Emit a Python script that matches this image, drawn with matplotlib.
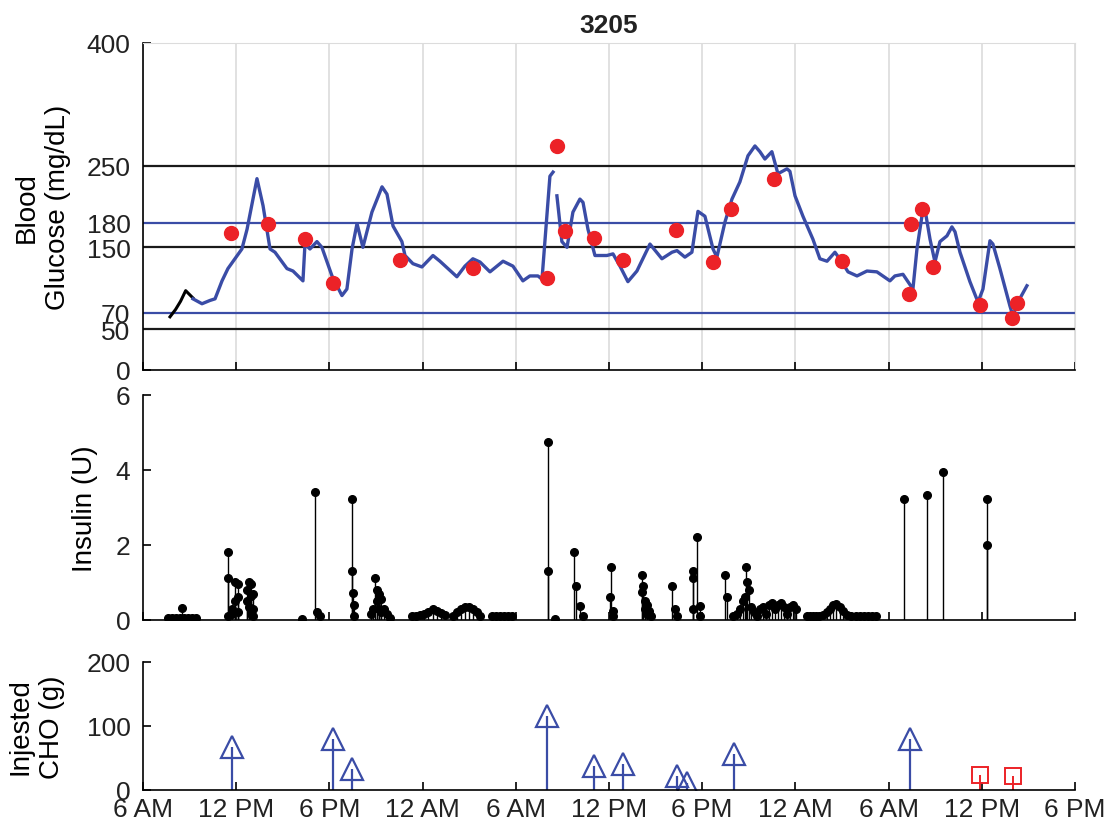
#%% Setup

import numpy as np
import matplotlib
matplotlib.use('Agg')
import matplotlib.pyplot as plt

plt.rcParams['font.family'] = ['Liberation Sans', 'DejaVu Sans']
plt.rcParams['text.color'] = '#222222'

# hours since 6 AM on day 1
tick_hours = [0, 6, 12, 18, 24, 30, 36, 42, 48, 54, 60]
tick_labels = ['6 AM', '12 PM', '6 PM', '12 AM', '6 AM', '12 PM', '6 PM',
               '12 AM', '6 AM', '12 PM', '6 PM']

# CGM trace, start of record (black) and the rest (blue, nan = gap)
cgm_start_h = [1.74, 2.10, 2.42, 2.75, 3.22]
cgm_start = [65, 74, 84, 97, 88]

cgm_h = [3.22, 3.80, 4.31, 4.64, 5.09, 5.47, 6.37, 6.70, 7.34, 7.73, 8.18, 8.50,
         9.27, 9.66, 10.30, 10.43, 10.75, 11.20, 11.52, 12.17, 12.81, 13.13,
         13.46, 13.78, 14.16, 14.74, 15.39, 15.71, 16.10, 16.67, 16.87, 17.38,
         17.96, 18.67, 19.12, 20.21, 20.73, 21.24, 21.70, 22.34, 23.18, 23.82,
         24.46, 24.91, 25.43, 25.69, 26.20, 26.40, 26.52,
         26.65, 26.97, 27.30, 27.68, 28.13, 28.33, 28.65, 29.10, 29.87, 30.26,
         30.71, 31.22, 31.80, 32.64, 33.41, 34.06, 34.38, 34.89, 35.34, 35.73,
         36.18, 36.70, 36.95, 37.47, 37.92, 38.43, 38.95, 39.40, 39.72, 40.04,
         40.49, 40.88, 41.46, 41.65, 41.98, 42.49, 43.13, 43.58, 44.04, 44.55,
         45.00, 45.39, 45.97, 46.61, 47.25, 48.09, 48.41, 48.93, 49.25, 49.57,
         49.83, 50.15, 50.34, 50.67, 50.99, 51.31, 51.76, 52.08, 52.28, 52.60,
         53.24, 53.76, 54.08, 54.53, 54.72, 55.17, 55.82, 56.01, 56.33, 56.91]
cgm = [87, 81, 85, 87, 109, 124, 148, 172, 234, 201, 148, 144,
       124, 121, 109, 154, 148, 157, 150, 115, 91, 99,
       148, 179, 150, 193, 224, 215, 176, 157, 140, 130,
       126, 140, 133, 114, 127, 136, 132, 120, 133, 127,
       109, 115, 115, 111, 237, 242, np.nan,
       213, 157, 150, 193, 209, 205, 172, 140, 140, 142,
       127, 108, 121, 154, 136, 144, 146, 138, 144, 194,
       188, 148, 138, 181, 209, 230, 262, 274, 267, 258,
       267, 240, 246, 243, 213, 188, 160, 136, 133, 144,
       132, 120, 115, 121, 120, 109, 115, 117, 108, 99,
       148, 188, 197, 160, 132, 157, 164, 175, 169, 144,
       108, 83, 99, 158, 154, 124, 78, 66, 83, 103]

# finger stick readings
smbg_h = [5.67, 8.05, 10.43, 12.23, 16.55, 21.24, 26.01, 26.65, 27.17, 29.04,
          30.90, 34.31, 36.70, 37.86, 40.62, 45.00, 49.32, 49.44, 50.15, 50.86,
          53.89, 55.95, 56.27]
smbg = [167, 179, 160, 106, 134, 125, 112, 274, 170, 161,
        135, 171, 132, 197, 233, 133, 93, 178, 197, 126,
        79, 64, 82]

# insulin deliveries (U)
ins_h = [1.61, 1.87, 2.12, 2.38, 2.51, 2.64, 2.90, 3.15, 3.41,
         5.47, 5.47, 5.47, 5.73, 5.73, 5.92, 5.92, 6.12, 6.12, 6.12,
         6.70, 6.70, 6.82, 6.82, 6.95, 6.95, 6.95, 7.08, 7.08, 7.08,
         10.24, 11.07, 11.20, 11.40,
         13.46, 13.46, 13.52, 13.58, 13.58,
         14.68, 14.81, 14.94, 15.06, 15.06, 15.19, 15.19, 15.32, 15.32, 15.52, 15.71, 15.90,
         17.32, 17.58, 17.83, 18.09, 18.35, 18.67, 18.93, 19.19, 19.44,
         19.96, 20.21, 20.47, 20.73, 20.99, 21.24, 21.50, 21.70,
         22.47, 22.73, 22.98, 23.24, 23.50, 23.76,
         26.07, 26.07, 26.52,
         27.75, 27.88, 28.13, 28.33,
         30.13, 30.07, 30.26, 30.26,
         32.13, 32.13, 32.19, 32.32, 32.32, 32.45, 32.45, 32.58, 32.70,
         34.06, 34.25, 34.38,
         35.67, 35.41, 35.41, 35.41, 35.86, 35.86,
         37.47, 37.60,
         38.82, 38.89, 39.01, 37.98, 38.24, 38.43, 38.63, 38.76, 39.14, 39.34, 39.53,
         39.72, 39.92, 40.11, 40.30, 40.49, 40.69, 40.88, 41.07, 41.27, 41.46, 41.65, 41.85, 42.04,
         42.75, 42.94, 43.13, 43.33, 43.52, 43.78, 44.04, 44.23, 44.42, 44.61,
         44.87, 45.06, 45.32, 45.58, 45.90, 46.16, 46.42, 46.67, 46.93, 47.19,
         48.99, 50.47, 51.50, 54.34, 54.34]
ins_u = [0.05, 0.05, 0.05, 0.05, 0.32, 0.05, 0.05, 0.05, 0.05,
         1.81, 1.12, 0.10, 0.30, 0.15, 1.01, 0.50, 0.95, 0.61, 0.20,
         0.80, 0.50, 1.00, 0.35, 0.95, 0.65, 0.15, 0.70, 0.30, 0.10,
         0.03, 3.41, 0.20, 0.10,
         3.23, 1.31, 0.72, 0.40, 0.10,
         0.15, 0.30, 1.12, 0.80, 0.50, 0.70, 0.30, 0.55, 0.20, 0.30, 0.15, 0.05,
         0.10, 0.10, 0.12, 0.15, 0.22, 0.30, 0.25, 0.18, 0.12,
         0.10, 0.20, 0.30, 0.35, 0.35, 0.30, 0.20, 0.10,
         0.10, 0.10, 0.10, 0.10, 0.10, 0.10,
         4.75, 1.31, 0.03,
         1.81, 0.91, 0.37, 0.10,
         1.41, 0.61, 0.24, 0.10,
         1.20, 0.75, 0.91, 0.50, 0.30, 0.40, 0.15, 0.25, 0.10,
         0.91, 0.30, 0.10,
         2.21, 1.31, 1.12, 0.30, 0.37, 0.10,
         1.20, 0.61,
         1.41, 1.01, 0.80, 0.10, 0.15, 0.30, 0.50, 0.60, 0.35, 0.20, 0.10,
         0.30, 0.35, 0.15, 0.40, 0.45, 0.30, 0.40, 0.45, 0.35, 0.15, 0.35, 0.40, 0.30,
         0.10, 0.10, 0.10, 0.10, 0.10, 0.12, 0.20, 0.30, 0.40, 0.42,
         0.35, 0.25, 0.12, 0.10, 0.10, 0.10, 0.10, 0.10, 0.10, 0.10,
         3.23, 3.33, 3.95, 3.23, 2.00]

# meals and hypo treatments (g)
meal_h = [5.71, 12.25, 13.48, 26.03, 29.04, 30.92, 34.36, 35.00, 38.05, 49.38]
meal_g = [67, 80, 32, 116, 38, 41, 22, 11, 56, 80]
treat_h = [53.88, 56.00]
treat_g = [24, 22]

blue = '#3a4ca6'
red = '#ec2227'
fs = 19

#%% Figure

fig = plt.figure(figsize=(11.1, 8.37), dpi=100)
ax1 = fig.add_axes([0.1288, 0.5568, 0.8396, 0.3907])
ax2 = fig.add_axes([0.1288, 0.2581, 0.8396, 0.2688])
ax3 = fig.add_axes([0.1288, 0.0550, 0.8396, 0.1529])

for ax in (ax1, ax2, ax3):
    ax.set_xlim(0, 60)
    ax.set_xticks(tick_hours)
    ax.tick_params(direction='in', length=6, width=1.2, labelsize=fs,
                   color='black', labelcolor='#222222')
    ax.tick_params(axis='y', pad=9)
    ax.tick_params(axis='x', pad=5)
    for s in ('left', 'bottom'):
        ax.spines[s].set_linewidth(1.2)
    ax.spines['top'].set_visible(False)
    ax.spines['right'].set_visible(False)

# glucose
ax1.grid(axis='x', color='#dcdcdc', linewidth=1.2)
ax1.set_axisbelow(True)
ax1.spines['top'].set_visible(True)
ax1.spines['right'].set_visible(True)
ax1.spines['top'].set_color('#dcdcdc')
ax1.spines['right'].set_color('#dcdcdc')
for lvl in (50, 150, 250):
    ax1.axhline(lvl, color='#1a1a1a', linewidth=1.6, zorder=1)
for lvl in (70, 180):
    ax1.axhline(lvl, color=blue, linewidth=1.6, zorder=1)
ax1.plot(cgm_start_h, cgm_start, color='black', linewidth=2.2, zorder=2)
ax1.plot(cgm_h, cgm, color=blue, linewidth=2.4, zorder=2)
ax1.plot(smbg_h, smbg, 'o', color=red, markersize=10, zorder=3)
ax1.set_ylim(0, 400)
ax1.set_yticks([0, 50, 70, 150, 180, 250, 400])
ax1.set_xticklabels([])
ax1.set_ylabel('Blood\nGlucose (mg/dL)', fontsize=20, linespacing=1.25)
ax1.yaxis.set_label_coords(-0.077, 0.5)
ax1.set_title('3205', fontsize=19, fontweight='bold', pad=8)

# insulin
ax2.vlines(ins_h, 0, ins_u, color='black', linewidth=1.0)
ax2.plot(ins_h, ins_u, 'o', color='black', markersize=5.5)
ax2.set_ylim(0, 6)
ax2.set_yticks([0, 2, 4, 6])
ax2.set_xticklabels([])
ax2.set_ylabel('Insulin (U)', fontsize=20)
ax2.yaxis.set_label_coords(-0.048, 0.5)

# carbs
ax3.vlines(meal_h, 0, meal_g, color=blue, linewidth=1.6)
ax3.plot(meal_h, meal_g, '^', markersize=16, markerfacecolor='none',
         markeredgecolor=blue, markeredgewidth=1.6)
ax3.vlines(treat_h, 0, treat_g, color=red, linewidth=1.4)
ax3.plot(treat_h, treat_g, 's', markersize=12, markerfacecolor='none',
         markeredgecolor=red, markeredgewidth=1.4)
ax3.set_ylim(0, 200)
ax3.set_yticks([0, 100, 200])
ax3.set_xticklabels(tick_labels)
ax3.set_ylabel('Injested\nCHO (g)', fontsize=20, linespacing=1.25)
ax3.yaxis.set_label_coords(-0.084, 0.5)

fig.savefig('out.png', dpi=100)
